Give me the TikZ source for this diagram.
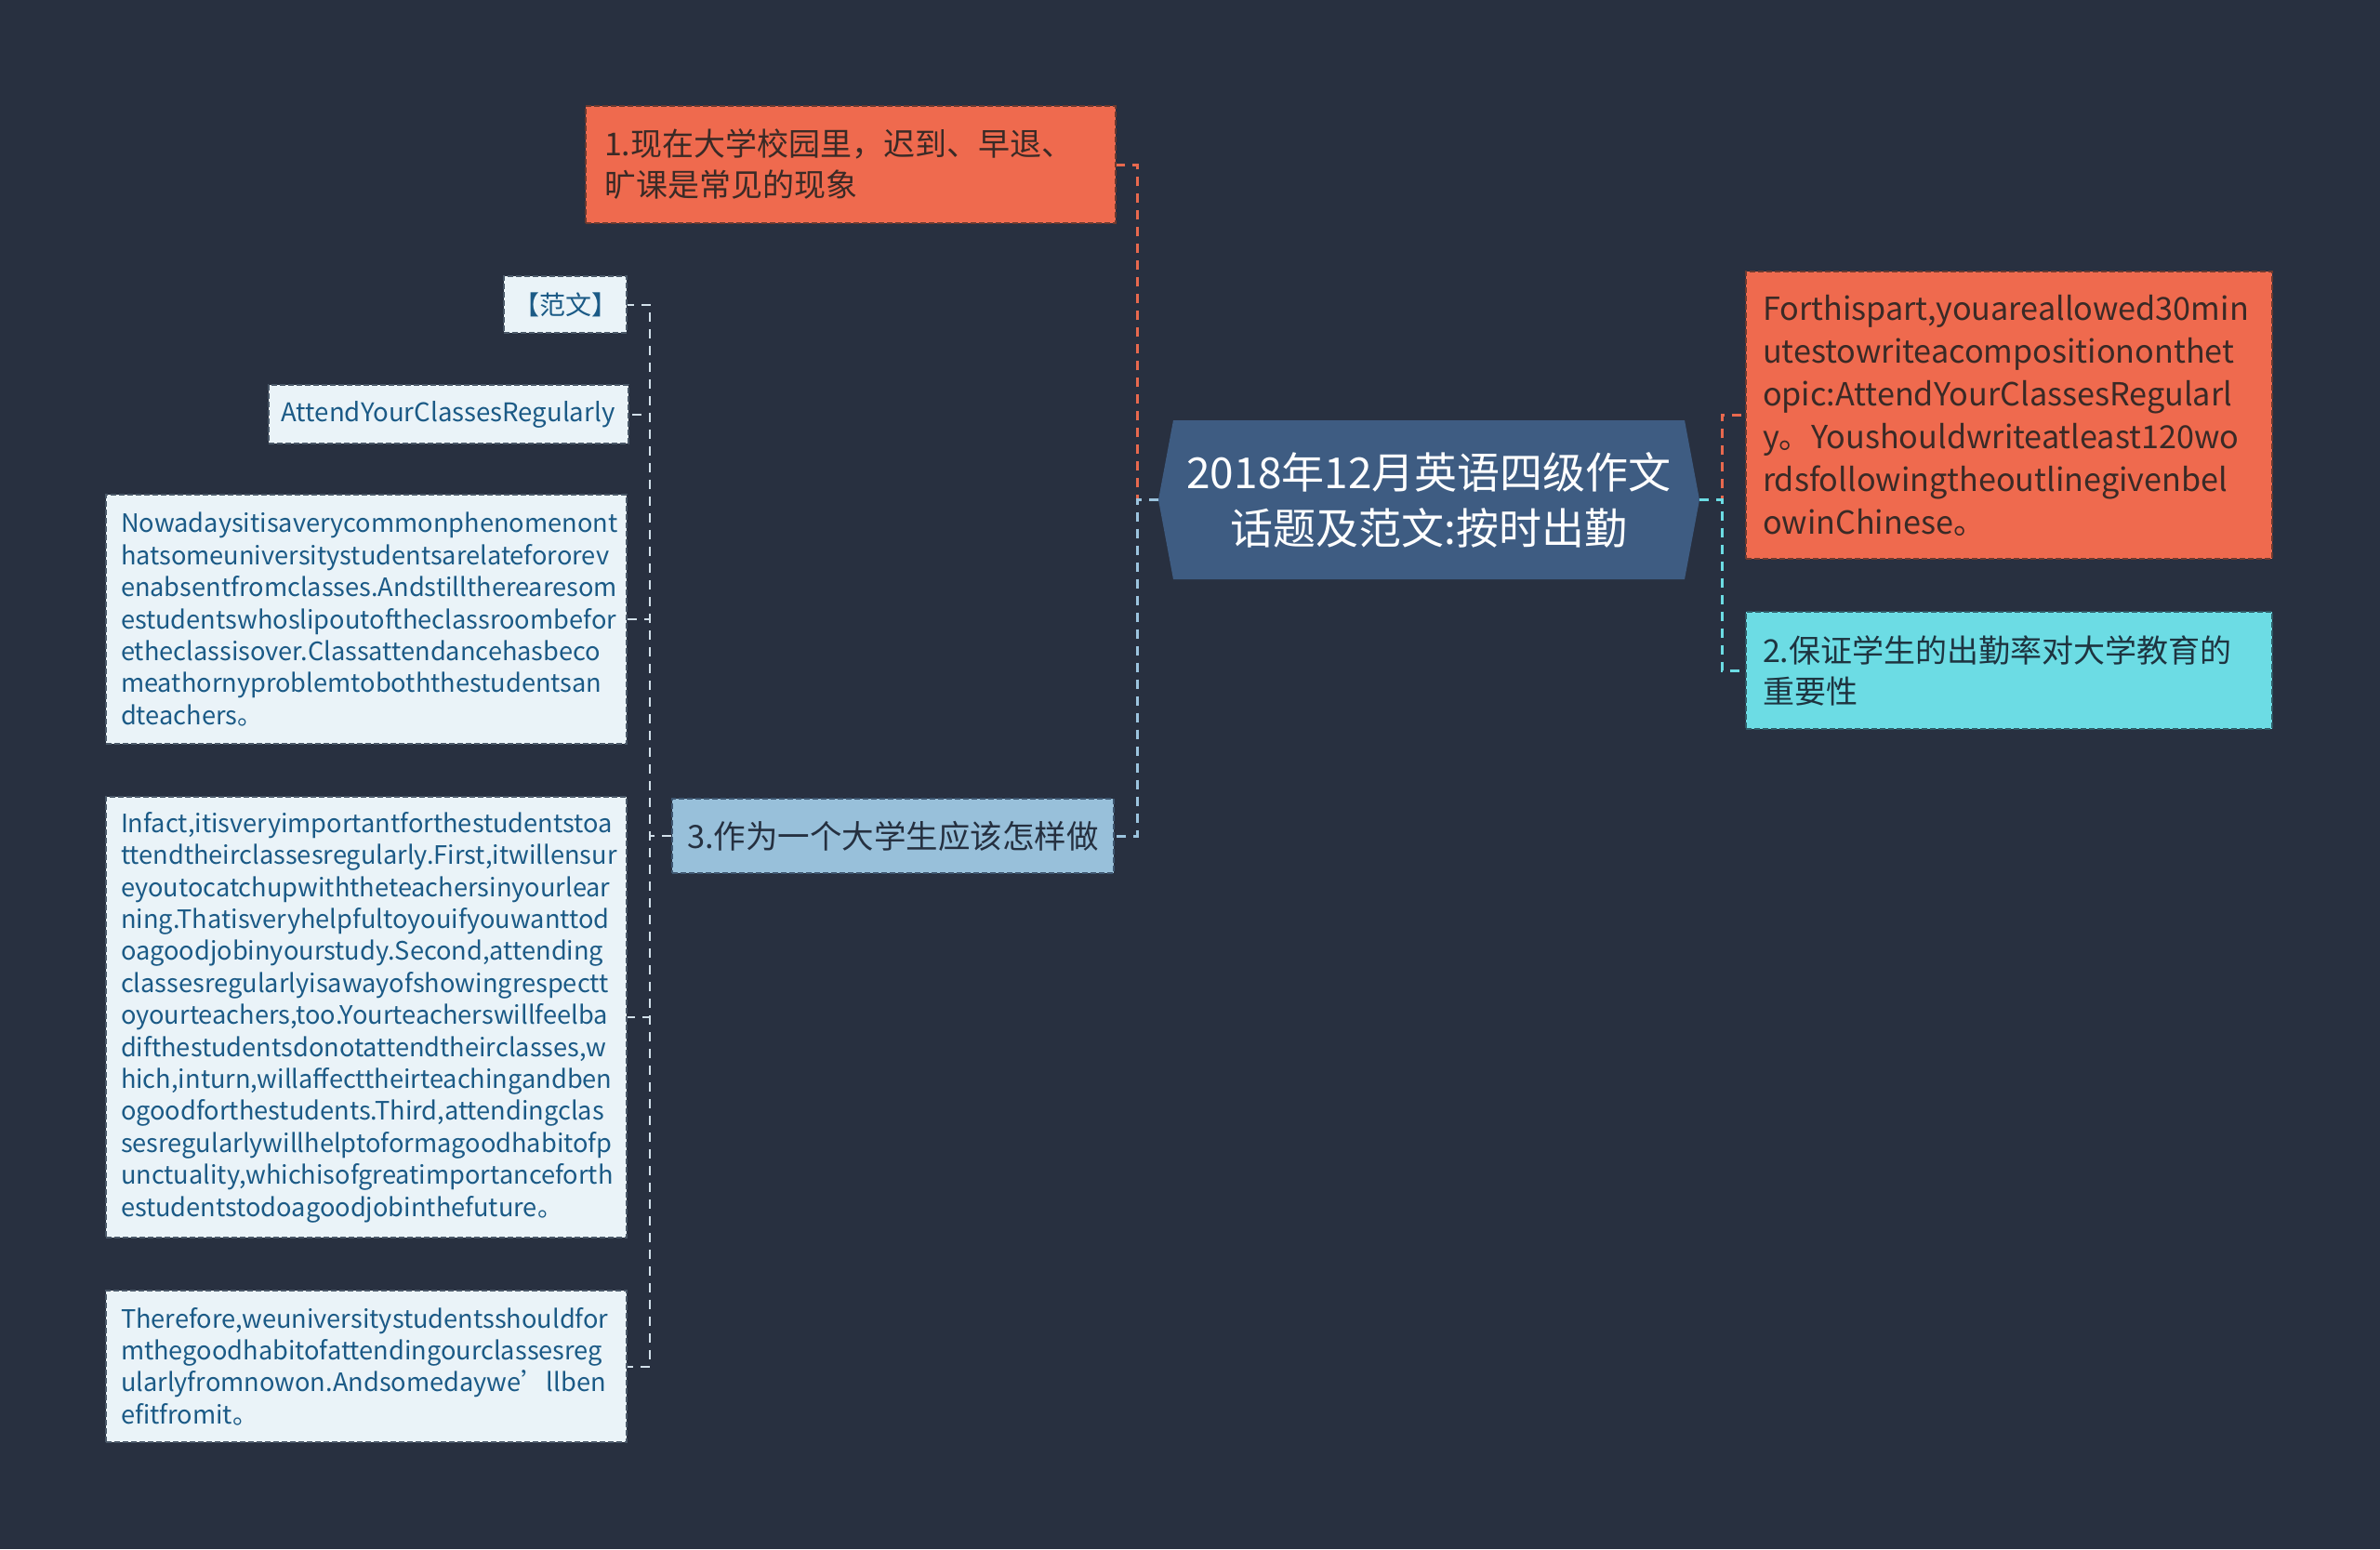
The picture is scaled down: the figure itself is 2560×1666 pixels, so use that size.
\documentclass[tikz,border=0pt]{standalone}
\usepackage{fontspec}
\setmainfont{Noto Sans CJK SC}
\definecolor{bg}{HTML}{283040}
\definecolor{cOrange}{HTML}{EF6A4E}
\definecolor{cOrangeB}{HTML}{6B3A30}
\definecolor{cOrangeT}{HTML}{3A2A26}
\definecolor{cCyan}{HTML}{6CDCE4}
\definecolor{cCyanB}{HTML}{2F5A66}
\definecolor{cCyanT}{HTML}{1E3440}
\definecolor{cBlue}{HTML}{98C0DA}
\definecolor{cBlueB}{HTML}{3E5670}
\definecolor{cBlueT}{HTML}{253040}
\definecolor{cPale}{HTML}{EAF3F8}
\definecolor{cPaleB}{HTML}{4A5868}
\definecolor{cPaleT}{HTML}{1B5A86}
\definecolor{cCenter}{HTML}{3E5C82}
\definecolor{lOrange}{HTML}{E8694E}
\definecolor{lBlue}{HTML}{9CC4DE}
\definecolor{lCyan}{HTML}{6CDCE4}
\definecolor{lPale}{HTML}{D2E0EA}
\tikzset{
  boxbase/.style={dashed, dash pattern=on 6pt off 3pt, line width=2pt, inner ysep=0pt, anchor=center},
  obox/.style={boxbase, fill=cOrange, draw=cOrangeB, text=cOrangeT},
  cbox/.style={boxbase, fill=cCyan, draw=cCyanB, text=cCyanT},
  bbox/.style={boxbase, fill=cBlue, draw=cBlueB, text=cBlueT},
  pbox/.style={boxbase, fill=cPale, draw=cPaleB, text=cPaleT},
  conn/.style={dashed, dash pattern=on 10pt off 8pt, line width=3pt},
  cconn/.style={dashed, dash pattern=on 10pt off 8pt, line width=2pt, draw=lPale},
}
\begin{document}
\begin{tikzpicture}[x=1pt,y=-1pt]
\useasboundingbox[fill=bg] (0,0) rectangle (2560,1666);

% center
\node[minimum width=582, minimum height=171, inner sep=0pt, align=center, text=white,
  font=\fontsize{46}{60}\selectfont,
  path picture={\fill[cCenter] (path picture bounding box.west)
     -- ([xshift=16pt]path picture bounding box.north west)
     -- ([xshift=-16pt]path picture bounding box.north east)
     -- (path picture bounding box.east)
     -- ([xshift=-16pt]path picture bounding box.south east)
     -- ([xshift=16pt]path picture bounding box.south west) -- cycle;}]
  (c) at (1537,537.5) {2018年12月英语四级作文\\话题及范文:按时出勤};

% first level
\node[obox, minimum width=570, minimum height=126, inner xsep=20pt, text width=530, align=left,
  font=\fontsize{34}{44}\selectfont] (n1) at (915,177) {1.现在大学校园里，迟到、早退、\\旷课是常见的现象};
\node[obox, minimum width=566, minimum height=309, inner xsep=18pt, text width=530, align=left,
  font=\fontsize{34.2}{46}\selectfont] (rp) at (2161,446.5)
  {Forthispart,youareallowed30min\\utestowriteacompositiononthet\\opic:AttendYourClassesRegularl\\y。Youshouldwriteatleast120wo\\rdsfollowingtheoutlinegivenbel\\owinChinese。};
\node[cbox, minimum width=566, minimum height=126, inner xsep=18pt, text width=530, align=left,
  font=\fontsize{34}{44}\selectfont] (n2) at (2161,721) {2.保证学生的出勤率对大学教育的\\重要性};
\node[bbox, minimum width=475, minimum height=80, inner xsep=0pt, align=center,
  font=\fontsize{34.5}{44}\selectfont] (n3) at (960.5,899) {3.作为一个大学生应该怎样做};

% children of n3
\node[pbox, minimum width=132, minimum height=61, inner xsep=0pt, align=center,
  font=\fontsize{28}{34}\selectfont] (fw) at (608,327.5) {【范文】};
\node[pbox, minimum width=387, minimum height=63, inner xsep=0pt, align=center,
  font=\fontsize{27.6}{34}\selectfont] (ay) at (482,445.5) {AttendYourClassesRegularly};
\node[pbox, minimum width=560, minimum height=268, inner xsep=16pt, text width=528, align=left,
  font=\fontsize{27.2}{34.4}\selectfont] (p1) at (394,666)
  {Nowadaysitisaverycommonphenomenont\\hatsomeuniversitystudentsarelatefororev\\enabsentfromclasses.Andstilltherearesom\\estudentswhoslipoutoftheclassroombefor\\etheclassisover.Classattendancehasbeco\\meathornyproblemtoboththestudentsan\\dteachers。};
\node[pbox, minimum width=560, minimum height=474, inner xsep=16pt, text width=528, align=left,
  font=\fontsize{27.2}{34.4}\selectfont] (p2) at (394,1094)
  {Infact,itisveryimportantforthestudentstoa\\ttendtheirclassesregularly.First,itwillensur\\eyoutocatchupwiththeteachersinyourlear\\ning.Thatisveryhelpfultoyouifyouwanttod\\oagoodjobinyourstudy.Second,attending\\classesregularlyisawayofshowingrespectt\\oyourteachers,too.Yourteacherswillfeelba\\difthestudentsdonotattendtheirclasses,w\\hich,inturn,willaffecttheirteachingandben\\ogoodforthestudents.Third,attendingclas\\sesregularlywillhelptoformagoodhabitofp\\unctuality,whichisofgreatimportanceforth\\estudentstodoagoodjobinthefuture。};
\node[pbox, minimum width=560, minimum height=163, inner xsep=16pt, text width=528, align=left,
  font=\fontsize{27.2}{34.4}\selectfont] (p3) at (394,1469.5)
  {Therefore,weuniversitystudentsshouldfor\\mthegoodhabitofattendingourclassesreg\\ularlyfromnowon.Andsomedaywe’llben\\efitfromit。};

% trunks
\coordinate (lt) at (1223,537.5);
\coordinate (rt) at (1852,537.5);
\coordinate (ct) at (699,899);

\draw[conn, draw=lOrange] (c.west) -- (lt) |- (n1.east);
\draw[conn, draw=lBlue] (c.west) -- (lt) |- (n3.east);
\draw[conn, draw=lOrange] (c.east) -- (rt) |- (rp.west);
\draw[conn, draw=lCyan] (c.east) -- (rt) |- (n2.west);

\draw[cconn] (n3.west) -- (ct) |- (fw.east);
\draw[cconn] (n3.west) -- (ct) |- (ay.east);
\draw[cconn] (n3.west) -- (ct) |- (p1.east);
\draw[cconn] (n3.west) -- (ct) |- (p2.east);
\draw[cconn] (n3.west) -- (ct) |- (p3.east);
\end{tikzpicture}
\end{document}
